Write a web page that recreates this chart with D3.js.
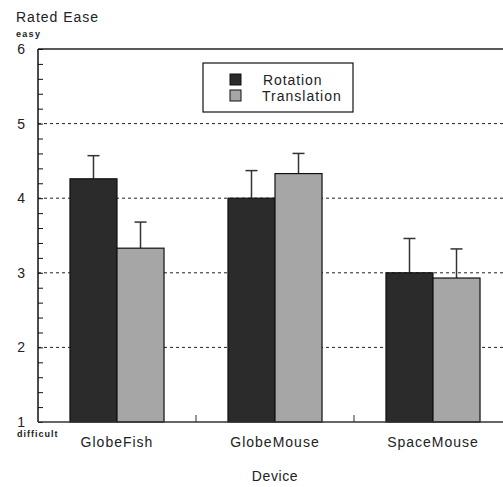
<!DOCTYPE html>
<html><head><meta charset="utf-8">
<script src="https://cdn.jsdelivr.net/npm/d3@7"></script>
<style>body{margin:0;background:#fff}svg{display:block;font-family:"Liberation Sans",Arial,sans-serif}</style>
</head><body><svg id="c" width="503" height="487"></svg>
<script>
const categories = ["GlobeFish", "GlobeMouse", "SpaceMouse"];
const seriesNames = ["Rotation", "Translation"];
const rotationValues = [4.26, 4.00, 3.00];
const translationValues = [3.33, 4.33, 2.93];
const rotationErrors = [4.57, 4.37, 3.46];
const translationErrors = [3.68, 4.60, 3.32];
const yTicks = [1, 2, 3, 4, 5, 6];
const colors = ["#2b2b2b", "#a6a6a6"];

(function () {
const svg = d3.select("#c");
const mLeft = 38, mRight = 512, mTop = 49, mBottom = 422;
const y = d3.scaleLinear().domain([1, 6]).range([mBottom, mTop]);
const x = d3.scaleBand().domain(categories).range([mLeft, mRight]).paddingInner(0).paddingOuter(0);
const inner = d3.scaleBand().domain(seriesNames).range([0, x.bandwidth()]).paddingOuter(0.68).paddingInner(0);

// grid
svg.append("g").selectAll("line").data(yTicks.filter(d => d > 1 && d < 6)).join("line")
  .attr("x1", mLeft).attr("x2", 503).attr("y1", d => y(d)).attr("y2", d => y(d))
  .attr("stroke", "#222").attr("stroke-width", 1).attr("stroke-dasharray", "3,3");

// top border
svg.append("line").attr("x1", mLeft).attr("x2", 503).attr("y1", y(6)).attr("y2", y(6))
  .attr("stroke", "#222").attr("stroke-width", 1.5);

const data = categories.map((c, i) => ({c, vals: [
  {s: seriesNames[0], v: rotationValues[i], e: rotationErrors[i]},
  {s: seriesNames[1], v: translationValues[i], e: translationErrors[i]}]}));

const g = svg.append("g").selectAll("g").data(data).join("g")
  .attr("transform", d => `translate(${x(d.c)},0)`);
g.selectAll("line.err").data(d => d.vals).join("line").attr("class", "err")
  .attr("x1", d => inner(d.s) + inner.bandwidth()/2).attr("x2", d => inner(d.s) + inner.bandwidth()/2)
  .attr("y1", d => y(d.v)).attr("y2", d => y(d.e)).attr("stroke", "#333").attr("stroke-width", 1.5);
g.selectAll("line.cap").data(d => d.vals).join("line").attr("class", "cap")
  .attr("x1", d => inner(d.s) + inner.bandwidth()/2 - 6).attr("x2", d => inner(d.s) + inner.bandwidth()/2 + 6)
  .attr("y1", d => y(d.e)).attr("y2", d => y(d.e)).attr("stroke", "#333").attr("stroke-width", 1.5);
g.selectAll("rect").data(d => d.vals).join("rect")
  .attr("x", d => inner(d.s)).attr("width", inner.bandwidth())
  .attr("y", d => y(d.v)).attr("height", d => y(1) - y(d.v))
  .attr("fill", (d, i) => colors[i]).attr("stroke", "#111").attr("stroke-width", 1.2);

// y axis
const yAxis = d3.axisRight(y).tickValues(d3.range(1, 6.001, 0.2)).tickSize(5).tickFormat("");
const ya = svg.append("g").attr("transform", `translate(${mLeft},0)`).call(yAxis);
ya.select(".domain").attr("stroke", "#111").attr("stroke-width", 1.5).attr("d", `M0,${mBottom}V${mTop}`);
ya.selectAll(".tick line").attr("stroke", "#111");
svg.append("g").selectAll("text").data(yTicks).join("text")
  .attr("x", 25).attr("y", d => y(d) + 5).attr("text-anchor", "end")
  .attr("font-size", 14).attr("fill", "#222").text(d => d);

// x axis
svg.append("line").attr("x1", mLeft).attr("x2", 503).attr("y1", mBottom).attr("y2", mBottom)
  .attr("stroke", "#333").attr("stroke-width", 1.5);
svg.append("g").selectAll("line").data(categories.slice(1)).join("line")
  .attr("x1", d => x(d)).attr("x2", d => x(d)).attr("y1", mBottom).attr("y2", mBottom - 7)
  .attr("stroke", "#333").attr("stroke-width", 1);
svg.append("g").selectAll("text").data(categories).join("text")
  .attr("x", d => x(d) + x.bandwidth()/2).attr("y", 447).attr("text-anchor", "middle")
  .attr("font-size", 14).attr("fill", "#222").attr("letter-spacing", 1).text(d => d);

// titles
svg.append("text").attr("x", 16).attr("y", 22).attr("font-size", 14).attr("fill", "#222").attr("letter-spacing", 1).text("Rated Ease");
svg.append("text").attr("x", 16).attr("y", 37).attr("font-size", 9).attr("font-weight", "bold").attr("fill", "#222").attr("letter-spacing", 1.3).text("easy");
svg.append("text").attr("x", 17).attr("y", 437).attr("font-size", 9).attr("font-weight", "bold").attr("fill", "#222").attr("letter-spacing", 1).text("difficult");
svg.append("text").attr("x", 275).attr("y", 481).attr("text-anchor", "middle").attr("font-size", 14).attr("fill", "#222").attr("letter-spacing", 0.6).text("Device");

// legend
const lg = svg.append("g");
lg.append("rect").attr("x", 203).attr("y", 63).attr("width", 150).attr("height", 49)
  .attr("fill", "#fff").attr("stroke", "#111").attr("stroke-width", 1.2);
seriesNames.forEach((s, i) => {
  lg.append("rect").attr("x", 230).attr("y", 74 + i * 16).attr("width", 11).attr("height", 11)
    .attr("fill", colors[i]).attr("stroke", "#111").attr("stroke-width", 1);
  lg.append("text").attr("x", i === 0 ? 263 : 262).attr("y", 85 + i * 16).attr("font-size", 14)
    .attr("fill", "#222").attr("letter-spacing", i === 0 ? 0.9 : 1).text(s);
});
})();
</script></body></html>
